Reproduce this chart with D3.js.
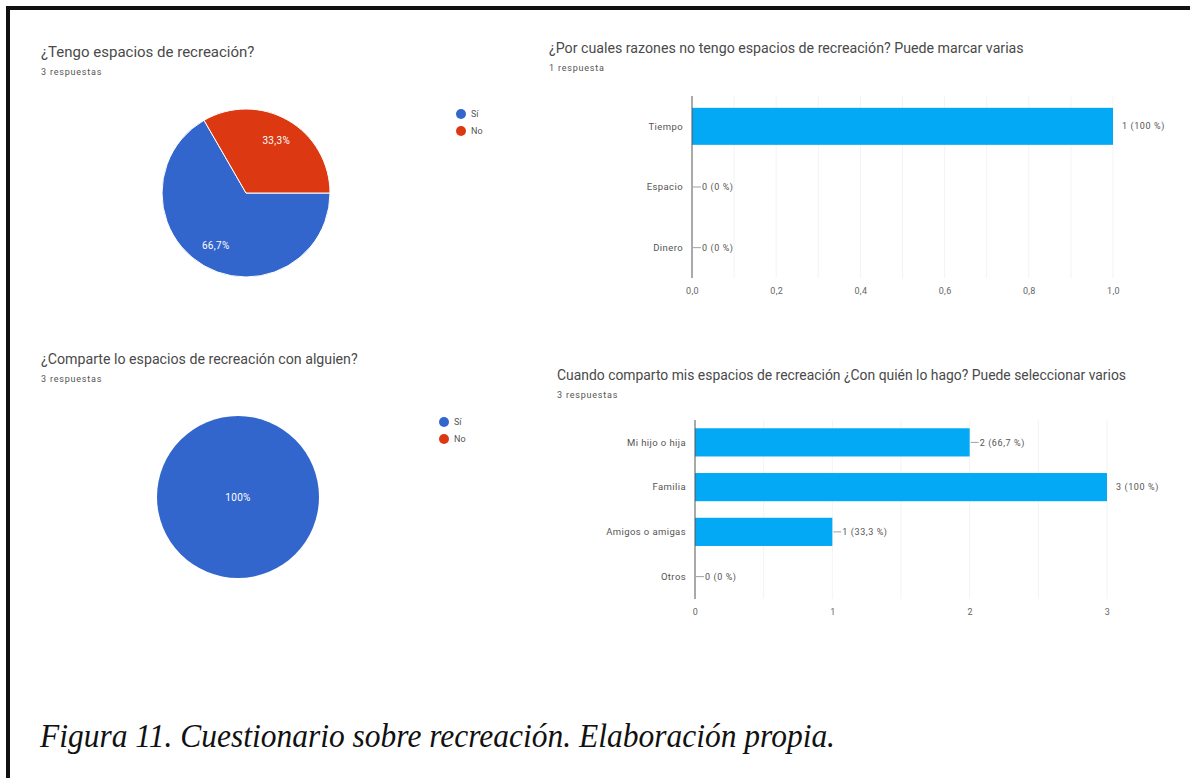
<!DOCTYPE html>
<html>
<head>
<meta charset="utf-8">
<script src="https://cdn.jsdelivr.net/npm/d3@7"></script>
<style>
  body { margin: 0; background: #fff; }
  svg { display: block; }
  .caption { font-family: 'Liberation Serif', 'Times New Roman', Times, serif; font-style: italic; }
</style>
</head>
<body>
<div id="page"></div>
<script>
var pieLabels = ['Sí', 'No'];
var pieColors = ['#3366cc', '#dc3912'];
var pie1Values = [2, 1];
var pie2Values = [3, 0];

var bar1Categories = ['Tiempo', 'Espacio', 'Dinero'];
var bar1Values = [1, 0, 0];
var bar1Percents = ['100 %', '0 %', '0 %'];
var bar1Ticks = [0, 0.2, 0.4, 0.6, 0.8, 1.0];

var bar2Categories = ['Mi hijo o hija', 'Familia', 'Amigos o amigas', 'Otros'];
var bar2Values = [2, 3, 1, 0];
var bar2Percents = ['66,7 %', '100 %', '33,3 %', '0 %'];
var bar2Ticks = [0, 1, 2, 3];

var font = 'Roboto, Arial, sans-serif';

var svg = d3.select('#page').append('svg')
  .attr('width', 1190)
  .attr('height', 778);

// page frame (left + top edge of the scanned figure)
svg.append('path')
  .attr('d', 'M8,778 V8 H1190')
  .attr('fill', 'none')
  .attr('stroke', '#111')
  .attr('stroke-width', 4);

function drawHeader(x, y, title, sub, size) {
  svg.append('text')
    .attr('x', x).attr('y', y)
    .attr('font-family', font)
    .attr('font-size', size || 14.2)
    .attr('fill', '#4a4a4a')
    .text(title);
  svg.append('text')
    .attr('x', x).attr('y', y + 18)
    .attr('font-family', font)
    .attr('font-size', 9)
    .attr('letter-spacing', 0.8)
    .attr('fill', '#555')
    .text(sub);
}

function drawPie(values, cx, cy, r, legendX, legendY) {
  var total = d3.sum(values);
  var pie = d3.pie().sort(null)
    .startAngle(Math.PI / 2)
    .endAngle(Math.PI / 2 + 2 * Math.PI);
  var arc = d3.arc().innerRadius(0).outerRadius(r);
  var labelArc = d3.arc().innerRadius(r * 0.72).outerRadius(r * 0.72);

  var g = svg.append('g').attr('transform', 'translate(' + cx + ',' + cy + ')');
  var arcs = pie(values).filter(function(d) { return d.value > 0; });

  g.selectAll('path').data(arcs).enter().append('path')
    .attr('d', arc)
    .attr('fill', function(d) { return pieColors[d.index]; })
    .attr('stroke', '#fff')
    .attr('stroke-width', arcs.length > 1 ? 1 : 0);

  g.selectAll('text').data(arcs).enter().append('text')
    .attr('transform', function(d) {
      if (arcs.length === 1) return 'translate(0,0)';
      return 'translate(' + labelArc.centroid(d) + ')';
    })
    .attr('text-anchor', 'middle')
    .attr('dy', '0.35em')
    .attr('font-family', font)
    .attr('font-size', 10)
    .attr('letter-spacing', 0.3)
    .attr('fill', '#fff')
    .text(function(d) {
      var p = d.value / total * 100;
      return p === 100 ? '100%' : d3.format('.1f')(p).replace('.', ',') + '%';
    });

  var leg = svg.append('g').attr('transform', 'translate(' + legendX + ',' + legendY + ')');
  var items = leg.selectAll('g').data(pieLabels).enter().append('g')
    .attr('transform', function(d, i) { return 'translate(0,' + i * 17 + ')'; });
  items.append('circle')
    .attr('r', 5)
    .attr('fill', function(d, i) { return pieColors[i]; });
  items.append('text')
    .attr('x', 10)
    .attr('dy', '0.35em')
    .attr('font-family', font)
    .attr('font-size', 9)
    .attr('fill', '#555')
    .text(function(d) { return d; });
}

function drawBars(opts) {
  var x = d3.scaleLinear().domain([0, opts.max]).range([opts.left, opts.right]);
  var y = d3.scaleBand().domain(opts.categories).range([opts.top, opts.bottom])
    .paddingInner(opts.pad).paddingOuter(opts.pad / 2);

  var g = svg.append('g');

  g.selectAll('line.grid').data(opts.grid).enter().append('line')
    .attr('class', 'grid')
    .attr('x1', function(d) { return x(d); })
    .attr('x2', function(d) { return x(d); })
    .attr('y1', opts.top).attr('y2', opts.bottom)
    .attr('stroke', '#f3f3f3')
    .attr('stroke-width', 1);

  g.selectAll('rect').data(opts.values).enter().append('rect')
    .attr('x', x(0))
    .attr('y', function(d, i) { return y(opts.categories[i]); })
    .attr('width', function(d) { return x(d) - x(0); })
    .attr('height', y.bandwidth())
    .attr('fill', '#03a9f4');

  g.append('line')
    .attr('x1', x(0)).attr('x2', x(0))
    .attr('y1', opts.top).attr('y2', opts.bottom)
    .attr('stroke', '#555')
    .attr('stroke-width', 1);

  g.selectAll('text.cat').data(opts.categories).enter().append('text')
    .attr('class', 'cat')
    .attr('x', x(0) - 9)
    .attr('y', function(d) { return y(d) + y.bandwidth() / 2; })
    .attr('dy', '0.35em')
    .attr('text-anchor', 'end')
    .attr('font-family', font)
    .attr('font-size', 9.5)
    .attr('letter-spacing', 0.4)
    .attr('fill', '#555')
    .text(function(d) { return d; });

  opts.values.forEach(function(v, i) {
    var cy = y(opts.categories[i]) + y.bandwidth() / 2;
    var isMax = v === opts.max;
    var tx = x(v) + (isMax ? 9 : 10);
    if (!isMax) {
      g.append('line')
        .attr('x1', x(v) + 1).attr('x2', x(v) + 9)
        .attr('y1', cy).attr('y2', cy)
        .attr('stroke', '#888')
        .attr('stroke-width', 0.8);
    }
    g.append('text')
      .attr('x', tx).attr('y', cy)
      .attr('dy', '0.35em')
      .attr('font-family', font)
      .attr('font-size', 9)
      .attr('letter-spacing', 0.6)
      .attr('fill', '#555')
      .text(v + ' (' + opts.percents[i] + ')');
  });

  var axis = d3.axisBottom(x).tickValues(opts.ticks).tickSize(0).tickPadding(10)
    .tickFormat(opts.format);
  var ag = g.append('g')
    .attr('transform', 'translate(0,' + opts.bottom + ')')
    .call(axis);
  ag.select('.domain').remove();
  ag.selectAll('text')
    .attr('font-family', font)
    .attr('font-size', 9)
    .attr('letter-spacing', 0.3)
    .attr('fill', '#666');
}

drawHeader(41, 57, '¿Tengo espacios de recreación?', '3 respuestas', 15);
drawPie(pie1Values, 246, 193, 84, 461, 114);

drawHeader(41, 364, '¿Comparte lo espacios de recreación con alguien?', '3 respuestas');
drawPie(pie2Values, 238, 497, 81, 444, 422);

drawHeader(549, 53, '¿Por cuales razones no tengo espacios de recreación? Puede marcar varias', '1 respuesta');
drawBars({
  categories: bar1Categories,
  values: bar1Values,
  percents: bar1Percents,
  ticks: bar1Ticks,
  grid: d3.range(1, 11).map(function(d) { return d / 10; }),
  max: 1,
  left: 692, right: 1113, top: 96, bottom: 278,
  pad: 0.39,
  format: function(d) { return d3.format('.1f')(d).replace('.', ','); }
});

drawHeader(557, 380, 'Cuando comparto mis espacios de recreación ¿Con quién lo hago? Puede seleccionar varios', '3 respuestas', 13.9);
drawBars({
  categories: bar2Categories,
  values: bar2Values,
  percents: bar2Percents,
  ticks: bar2Ticks,
  grid: [0.5, 1, 1.5, 2, 2.5, 3],
  max: 3,
  left: 695, right: 1107, top: 420, bottom: 599,
  pad: 0.37,
  format: d3.format('d')
});

svg.append('text')
  .attr('class', 'caption')
  .attr('x', 40).attr('y', 747)
  .attr('font-size', 34)
  .attr('fill', '#111')
  .attr('textLength', 795)
  .attr('lengthAdjust', 'spacingAndGlyphs')
  .text('Figura 11. Cuestionario sobre recreación. Elaboración propia.');
</script>
</body>
</html>
